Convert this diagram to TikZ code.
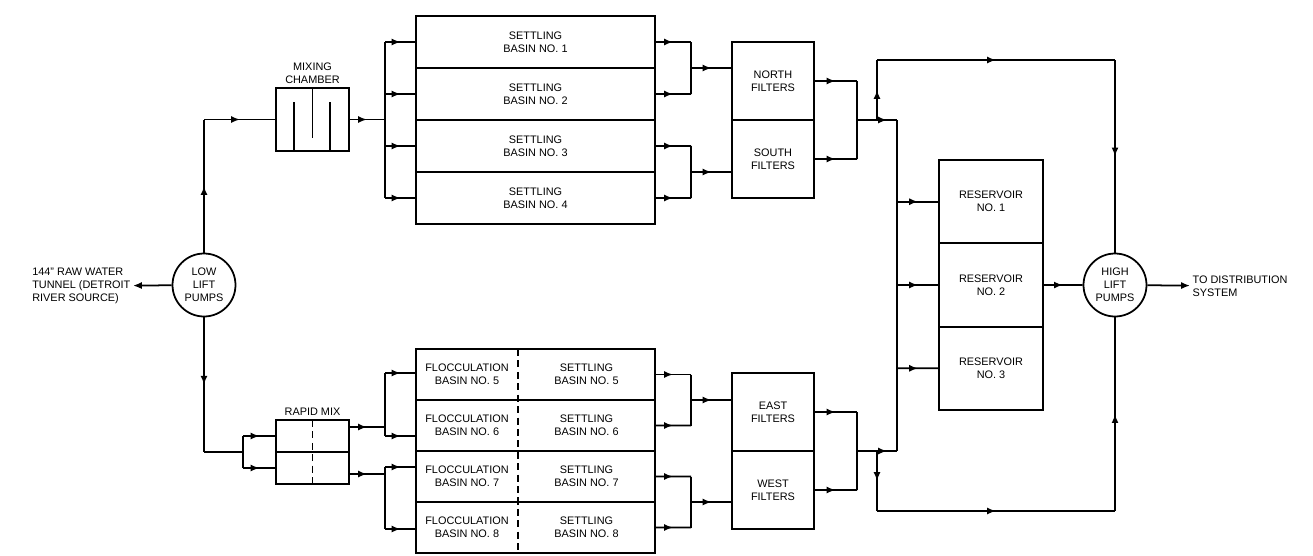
\documentclass[tikz,border=0pt]{standalone}
\usepackage{fontspec}
\setmainfont{Liberation Sans}
\usetikzlibrary{arrows.meta, positioning, decorations.markings}

\begin{document}
\begin{tikzpicture}[
  x=0.02cm, y=-0.02cm,
  line width=1pt,
  every node/.style={font=\fontsize{6.2}{7.4}\selectfont},
  basin/.style={draw, rectangle, align=center, minimum width=4.78cm, minimum height=1.04cm, outer sep=0pt},
  floc/.style={rectangle, align=center, minimum width=2.04cm, minimum height=1.02cm, outer sep=0pt},
  settle/.style={rectangle, align=center, minimum width=2.74cm, minimum height=1.02cm, outer sep=0pt},
  filter/.style={draw, rectangle, align=center, minimum width=1.64cm, minimum height=1.56cm, outer sep=0pt},
  tank/.style={draw, rectangle, align=center, minimum width=2.08cm, minimum height=1.667cm, outer sep=0pt},
  mixer/.style={draw, rectangle, minimum width=1.46cm, outer sep=0pt},
  pump/.style={draw, circle, align=center, inner sep=0pt, minimum size=1.26cm},
  txt/.style={align=left, inner sep=1pt},
  pipe/.style={line width=1pt},
  flow/.style={pipe, postaction={decorate, decoration={markings, mark=at position 0.5 with {\arrow{Latex[length=5pt,width=4pt]}}}}},
  arrow/.style={pipe, -{Latex[length=5pt,width=4pt]}},
  divider/.style={line width=0.7pt, dash pattern=on 4pt off 2.5pt},
  every label/.style={align=center, inner sep=1pt}
]
\useasboundingbox (0,0) rectangle (1313,555);

% Nodes
\node[pump] (ll) at (204,285) {LOW\\LIFT\\PUMPS};
\node[txt, anchor=east] (src) at (133,286) {144" RAW WATER\\TUNNEL (DETROIT\\RIVER SOURCE)};

\node[mixer, minimum height=1.26cm, label={[label distance=1pt]above:{MIXING\\CHAMBER}}] (mc) at (312.5,119.5) {};
\node[mixer, minimum height=0.64cm, label={[label distance=1pt]above:{RAPID MIX}}] (rm1) at (312.5,436) {};
\node[mixer, minimum height=0.64cm, below=0pt of rm1] (rm2) {};

\node[basin] (sb1) at (535.5,42) {SETTLING\\BASIN NO. 1};
\node[basin, below=0pt of sb1] (sb2) {SETTLING\\BASIN NO. 2};
\node[basin, below=0pt of sb2] (sb3) {SETTLING\\BASIN NO. 3};
\node[basin, below=0pt of sb3] (sb4) {SETTLING\\BASIN NO. 4};

\node[floc] (fl5) at (467,374.5) {FLOCCULATION\\BASIN NO. 5};
\node[settle, right=0pt of fl5] (st5) {SETTLING\\BASIN NO. 5};
\node[floc, below=0pt of fl5] (fl6) {FLOCCULATION\\BASIN NO. 6};
\node[settle, right=0pt of fl6] (st6) {SETTLING\\BASIN NO. 6};
\node[floc, below=0pt of fl6] (fl7) {FLOCCULATION\\BASIN NO. 7};
\node[settle, right=0pt of fl7] (st7) {SETTLING\\BASIN NO. 7};
\node[floc, below=0pt of fl7] (fl8) {FLOCCULATION\\BASIN NO. 8};
\node[settle, right=0pt of fl8] (st8) {SETTLING\\BASIN NO. 8};

\node[filter] (nf) at (773,81) {NORTH\\FILTERS};
\node[filter, below=0pt of nf] (sf) {SOUTH\\FILTERS};
\node[filter] (ef) at (773,412) {EAST\\FILTERS};
\node[filter, below=0pt of ef] (wf) {WEST\\FILTERS};

\node[tank] (rs1) at (991,201.7) {RESERVOIR\\NO. 1};
\node[tank, below=0pt of rs1] (rs2) {RESERVOIR\\NO. 2};
\node[tank, below=0pt of rs2] (rs3) {RESERVOIR\\NO. 3};

\node[pump] (hl) at (1115,285) {HIGH\\LIFT\\PUMPS};
\node[txt, anchor=west] (dist) at (1190,286) {TO DISTRIBUTION\\SYSTEM};

% Box details
\draw ([xshift=0.36cm]mc.south west) -- ++(0,-49);
\draw (mc.north) -- ++(0,50);
\draw ([xshift=-0.38cm]mc.south east) -- ++(0,-49);
\draw[divider] (rm1.north) -- (rm2.south);
\draw (fl5.north west) rectangle (st5.south east);
\draw (fl6.north west) rectangle (st6.south east);
\draw (fl7.north west) rectangle (st7.south east);
\draw (fl8.north west) rectangle (st8.south east);
\draw[divider] (fl5.north east) -- (fl8.south east);

% Junctions
\coordinate (a1) at (204,119.5);
\coordinate (a2) at (385,119.5);
\coordinate (b1) at (385,42);
\coordinate (b2) at (385,94);
\coordinate (b3) at (385,146);
\coordinate (b4) at (385,198);
\coordinate (o1) at (691,42);
\coordinate (o2) at (691,94);
\coordinate (o12) at (691,68);
\coordinate (o3) at (691,146);
\coordinate (o4) at (691,198);
\coordinate (o34) at (691,172);
\coordinate (f1) at (857,81);
\coordinate (f2) at (857,159);
\coordinate (fj) at (857,120);
\coordinate (t0) at (877,120);
\coordinate (bt) at (897,120);
\coordinate (t1) at (877,60);
\coordinate (t2) at (1115,60);
\coordinate (r1) at (897,201.7);
\coordinate (r2) at (897,285);
\coordinate (r3) at (897,368.3);

\coordinate (c2) at (204,452);
\coordinate (s0) at (243,452);
\coordinate (s1) at (243,436);
\coordinate (s2) at (243,468);
\coordinate (q1) at (385,427);
\coordinate (q2) at (385,474);
\coordinate (d5) at (385,373);
\coordinate (d6) at (385,436);
\coordinate (d7) at (385,467);
\coordinate (d8) at (385,529);
\coordinate (p5) at (691,374.5);
\coordinate (p6) at (691,425.5);
\coordinate (p56) at (691,400);
\coordinate (p7) at (691,476.5);
\coordinate (p8) at (691,527.5);
\coordinate (p78) at (691,502);
\coordinate (g1) at (857,412);
\coordinate (g2) at (857,490);
\coordinate (gj) at (857,451);
\coordinate (u0) at (877,451);
\coordinate (bb) at (897,451);
\coordinate (u1) at (877,511);
\coordinate (u2) at (1115,511);

% Arrows

% Raw water in and up to the mixing chamber
\draw[arrow] (ll) -- (src);
\draw[flow] (ll) -- (a1);
\draw[flow] (a1) -- (mc);
\draw[flow] (mc) -- (a2);

% Settling basins 1-4
\draw[pipe] (b1) -- (b4);
\draw[flow] (b1) -- (sb1);
\draw[flow] (b2) -- (sb2);
\draw[flow] (b3) -- (sb3);
\draw[flow] (b4) -- (sb4);
\draw[flow] (sb1) -- (o1);
\draw[flow] (sb2) -- (o2);
\draw[flow] (sb3) -- (o3);
\draw[flow] (sb4) -- (o4);
\draw[pipe] (o1) -- (o2);
\draw[pipe] (o3) -- (o4);
\draw[flow] (o12) -- (o12 -| nf.west);
\draw[flow] (o34) -- (o34 -| sf.west);

% North and south filters
\draw[flow] (nf) -- (f1);
\draw[flow] (sf) -- (f2);
\draw[pipe] (f1) -- (f2);
\draw[pipe] (fj) -- (t0);
\draw[flow] (t0) -- (bt);
\draw[flow] (t0) -- (t1);
\draw[flow] (t1) -- (t2);
\draw[flow] (t2) -- (hl);

% Reservoirs
\draw[pipe] (bt) -- (bb);
\draw[flow] (r1) -- (rs1);
\draw[flow] (r2) -- (rs2);
\draw[flow] (r3) -- (rs3);
\draw[flow] (rs2) -- (hl);
\draw[arrow] (hl) -- (dist);

% Rapid mix and basins 5-8
\draw[flow] (ll) -- (c2);
\draw[pipe] (c2) -- (s0);
\draw[pipe] (s1) -- (s2);
\draw[flow] (s1) -- (rm1);
\draw[flow] (s2) -- (rm2);
\draw[flow] (rm1.east |- q1) -- (q1);
\draw[flow] (rm2.east |- q2) -- (q2);
\draw[pipe] (d5) -- (d6);
\draw[pipe] (d7) -- (d8);
\draw[flow] (d5) -- (d5 -| fl5.west);
\draw[flow] (d6) -- (d6 -| fl6.west);
\draw[flow] (d7) -- (d7 -| fl7.west);
\draw[flow] (d8) -- (d8 -| fl8.west);
\draw[flow] (st5) -- (p5);
\draw[flow] (st6) -- (p6);
\draw[flow] (st7) -- (p7);
\draw[flow] (st8) -- (p8);
\draw[pipe] (p5) -- (p6);
\draw[pipe] (p7) -- (p8);
\draw[flow] (p56) -- (p56 -| ef.west);
\draw[flow] (p78) -- (p78 -| wf.west);

% East and west filters
\draw[flow] (ef) -- (g1);
\draw[flow] (wf) -- (g2);
\draw[pipe] (g1) -- (g2);
\draw[pipe] (gj) -- (u0);
\draw[flow] (u0) -- (bb);
\draw[flow] (u0) -- (u1);
\draw[flow] (u1) -- (u2);
\draw[flow] (u2) -- (hl);

\end{tikzpicture}
\end{document}
